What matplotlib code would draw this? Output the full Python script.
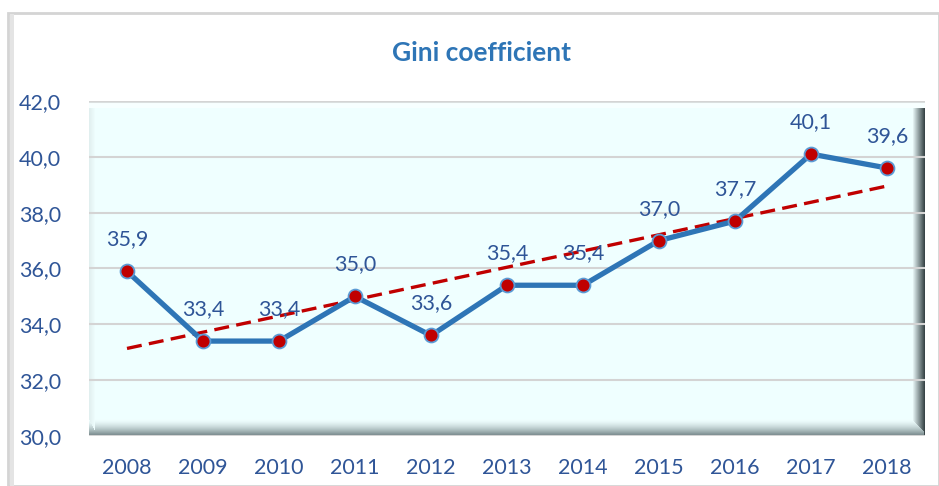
import numpy as np
import matplotlib
matplotlib.use("Agg")
import matplotlib.pyplot as plt
from matplotlib.patches import Rectangle

years = ["2008", "2009", "2010", "2011", "2012", "2013", "2014", "2015", "2016", "2017", "2018"]
gini = [35.9, 33.4, 33.4, 35.0, 33.6, 35.4, 35.4, 37.0, 37.7, 40.1, 39.6]
yticks = [30, 32, 34, 36, 38, 40, 42]
title = "Gini coefficient"

plt.rcParams['font.family'] = ['Lato', 'DejaVu Sans']

W, H = 939, 486
fig = plt.figure(figsize=(W / 100, H / 100), dpi=100)

# outer chart frame
fig.patches.append(Rectangle((8 / W, 0), (W - 8) / W, (H - 13) / H, transform=fig.transFigure,
                             facecolor='white', edgecolor='#D4D4D4', linewidth=2, zorder=-10))
fig.patches.append(Rectangle((10 / W, 0), 4 / W, (H - 14) / H, transform=fig.transFigure,
                             facecolor='#E4E4E4', edgecolor='none', zorder=-9))

L, R, T, B = 89, 925, 101, 436
ax = fig.add_axes([L / W, (H - B) / H, (R - L) / W, (B - T) / H])
ax.set_zorder(1)

# plot area background with bevel
pw, ph = R - L, B - T
base = np.array([0.94, 1.0, 1.0])
img = np.ones((ph, pw, 3)) * base
# right dark bevel
for i in range(12):
    t = (i + 1) / 12
    c = base * (1 - t) + np.array([0.22, 0.27, 0.28]) * t
    img[:, pw - 12 + i] = c
# bottom bevel
for i in range(16):
    t = ((i + 1) / 16) ** 1.5
    c = base * (1 - t) + np.array([0.45, 0.52, 0.53]) * t
    img[ph - 16 + i, :pw - 12 + min(i, 11)] = c
# left light bevel
for i in range(6):
    t = 1 - i / 6
    c = base * (1 - t * 0.3) + np.array([0.75, 0.80, 0.80]) * t * 0.3
    img[:ph - 16 + i * 2, i] = c
# top light line
img[0:3, :] = np.array([0.86, 0.88, 0.88])
img[3:8, :] = np.array([0.97, 1.0, 1.0])
ax.imshow(img, extent=(0, 1, 0, 1), transform=ax.transAxes, aspect='auto', zorder=0, interpolation='bilinear')
ax.set_facecolor('none')

x = np.arange(len(years))
ax.set_xlim(-0.5, len(years) - 0.5)
ax.set_ylim(30, 42)
ax.set_yticks(yticks)
ax.set_yticklabels([f"{v:.1f}".replace('.', ',') for v in yticks])
ax.set_xticks(x)
ax.set_xticklabels(years)
ax.yaxis.grid(True, color='#D4D4D4', linewidth=1.5, zorder=1)
ax.tick_params(length=0, labelsize=15.5, labelcolor='#2F5597')
ax.tick_params(axis='y', pad=20)
ax.tick_params(axis='x', pad=16)
for s in ax.spines.values():
    s.set_visible(False)

# trend line
coef = np.polyfit(x, gini, 1)
ax.plot(x, np.polyval(coef, x), linestyle=(0, (4.5, 2.2)), color='#C00000', linewidth=2.4, zorder=2)

ax.plot(x, gini, color='#2E75B6', linewidth=3.8, zorder=3,
        marker='o', markersize=10, markerfacecolor='#C00000', markeredgecolor='#5B9BD5',
        markeredgewidth=1.3)

for xi, v in zip(x, gini):
    ax.annotate(f"{v:.1f}".replace('.', ','), (xi, v), xytext=(0, 23), textcoords='offset points',
                ha='center', va='center', fontsize=15.5, color='#2F5597', zorder=4)

fig.text(481 / W, 1 - 53 / H, title, ha='center', va='center', fontsize=19,
         fontweight='bold', color='#2E75B6')

fig.savefig('out.png', dpi=100)
